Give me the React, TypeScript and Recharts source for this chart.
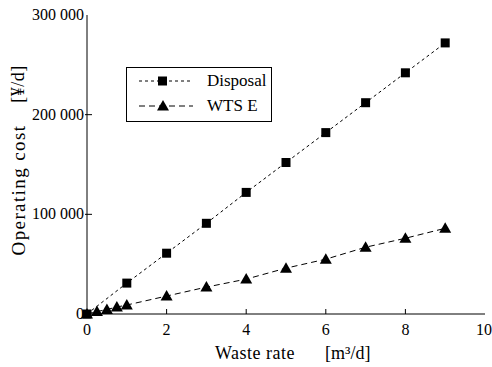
import { LineChart, Line, XAxis, YAxis } from 'recharts'

const disposalX = [0, 1, 2, 3, 4, 5, 6, 7, 8, 9]
const disposalY = [0, 31000, 61000, 91000, 122000, 152000, 182000, 212000, 242000, 272000]
const wtsX = [0, 0.25, 0.5, 0.75, 1, 2, 3, 4, 5, 6, 7, 8, 9]
const wtsY = [0, 2500, 4500, 7000, 9000, 18000, 27000, 35000, 46000, 55000, 67000, 76000, 86000]

const xTicks = [0, 2, 4, 6, 8, 10]
const yTicks = [0, 100000, 200000, 300000]
const yTickLabels = ['0', '100 000', '200 000', '300 000']

const disposal = disposalX.map((x, i) => ({ x, y: disposalY[i] }))
const wts = wtsX.map((x, i) => ({ x, y: wtsY[i] }))

const FONT = 'Liberation Serif, serif'

const Square = (p: any) => {
  if (p.cx == null) return <g key={p.index} />
  return <rect key={p.index} x={p.cx - 4.5} y={p.cy - 4.5} width={9} height={9} fill="#000" />
}

const Triangle = (p: any) => {
  if (p.cx == null) return <g key={p.index} />
  const { cx, cy } = p
  return <path key={p.index} d={`M${cx},${cy - 6} L${cx + 6},${cy + 4.5} L${cx - 6},${cy + 4.5} Z`} fill="#000" />
}

const BottomTick = (p: any) => {
  const v = p.payload.value
  return (
    <g>
      {v !== 0 && v !== 10 && <line x1={p.x} x2={p.x} y1={p.y} y2={p.y - 5} stroke="#000" />}
      <text x={p.x} y={p.y + 21} textAnchor="middle" fontFamily={FONT} fontSize={16} fill="#000">
        {v}
      </text>
    </g>
  )
}

const TopTick = (p: any) => {
  const v = p.payload.value
  if (v === 0 || v === 10) return <g />
  return <line x1={p.x} x2={p.x} y1={p.y} y2={p.y + 5} stroke="#000" />
}

const LeftTick = (p: any) => {
  const v = p.payload.value
  const i = yTicks.indexOf(v)
  return (
    <g>
      {v !== 0 && v !== 300000 && <line x1={p.x - 2} x2={p.x + 5} y1={p.y} y2={p.y} stroke="#000" />}
      <text x={p.x - 3} y={p.y + 5} textAnchor="end" fontFamily={FONT} fontSize={16} fill="#000">
        {yTickLabels[i]}
      </text>
    </g>
  )
}

const RightTick = (p: any) => {
  const v = p.payload.value
  if (v === 0 || v === 300000) return <g />
  return <line x1={p.x} x2={p.x - 5} y1={p.y} y2={p.y} stroke="#000" />
}

const labelStyle = {
  position: 'absolute' as const,
  fontFamily: FONT,
  fontSize: 18,
  letterSpacing: 0.5,
  whiteSpace: 'pre' as const,
  lineHeight: 1,
}

export default function App() {
  return (
    <div style={{ position: 'absolute', left: 0, top: 0, width: 492, height: 367, background: '#fff' }}>
      <LineChart width={492} height={367} margin={{ top: 15, right: 7, left: 0, bottom: 0 }}>
        <XAxis
          dataKey="x"
          type="number"
          domain={[0, 10]}
          ticks={xTicks}
          height={53}
          stroke="#000"
          tickSize={0}
          tickMargin={0}
          tick={<BottomTick />}
        />
        <XAxis
          xAxisId="top"
          dataKey="x"
          orientation="top"
          type="number"
          domain={[0, 10]}
          ticks={xTicks}
          height={0}
          stroke="#000"
          tickSize={0}
          tickMargin={0}
          tick={<TopTick />}
        />
        <YAxis
          type="number"
          domain={[0, 300000]}
          ticks={yTicks}
          width={87}
          stroke="#000"
          tickSize={0}
          tickMargin={0}
          tick={<LeftTick />}
        />
        <YAxis
          yAxisId="right"
          orientation="right"
          type="number"
          domain={[0, 300000]}
          ticks={yTicks}
          width={0}
          stroke="#000"
          tickSize={0}
          tickMargin={0}
          tick={<RightTick />}
        />
        {/* invisible series so the top/right frame axes get drawn */}
        <Line
          xAxisId="top"
          yAxisId="right"
          data={disposal}
          dataKey="y"
          stroke="none"
          dot={false}
          activeDot={false}
          legendType="none"
          isAnimationActive={false}
        />
        <Line
          data={disposal}
          dataKey="y"
          name="Disposal"
          stroke="#000"
          strokeWidth={1}
          strokeDasharray="3 3"
          dot={Square}
          activeDot={false}
          isAnimationActive={false}
        />
        <Line
          data={wts}
          dataKey="y"
          name="WTS E"
          stroke="#000"
          strokeWidth={1}
          strokeDasharray="6 4"
          dot={Triangle}
          activeDot={false}
          isAnimationActive={false}
        />
      </LineChart>
      <div
        style={{
          position: 'absolute',
          left: 126,
          top: 67,
          width: 146,
          height: 55,
          border: '1px solid #000',
          boxSizing: 'border-box',
          background: '#fff',
        }}
      >
        <svg width={144} height={53} style={{ display: 'block' }}>
          <line x1={12} x2={66} y1={13} y2={13} stroke="#000" strokeDasharray="3 3" />
          <rect x={31} y={8.5} width={9} height={9} fill="#000" />
          <text x={80} y={18} fontFamily={FONT} fontSize={17}>Disposal</text>
          <line x1={12} x2={66} y1={38} y2={38} stroke="#000" strokeDasharray="6 4" />
          <path d="M36,32 L42,42.5 L30,42.5 Z" fill="#000" />
          <text x={80} y={43} fontFamily={FONT} fontSize={17}>WTS E</text>
        </svg>
      </div>
      <div style={{ ...labelStyle, left: 18, top: 190, fontSize: 19, letterSpacing: 1.4, transform: 'translate(-50%, -50%) rotate(-90deg)' }}>
        Operating cost
      </div>
      <div style={{ ...labelStyle, left: 18, top: 84, fontSize: 18, letterSpacing: 0.5, transform: 'translate(-50%, -50%) rotate(-90deg)' }}>
        [¥/d]
      </div>
      <div style={{ ...labelStyle, left: 215, top: 344 }}>Waste rate</div>
      <div style={{ ...labelStyle, left: 325, top: 344, letterSpacing: 0 }}>[m³/d]</div>
    </div>
  )
}
